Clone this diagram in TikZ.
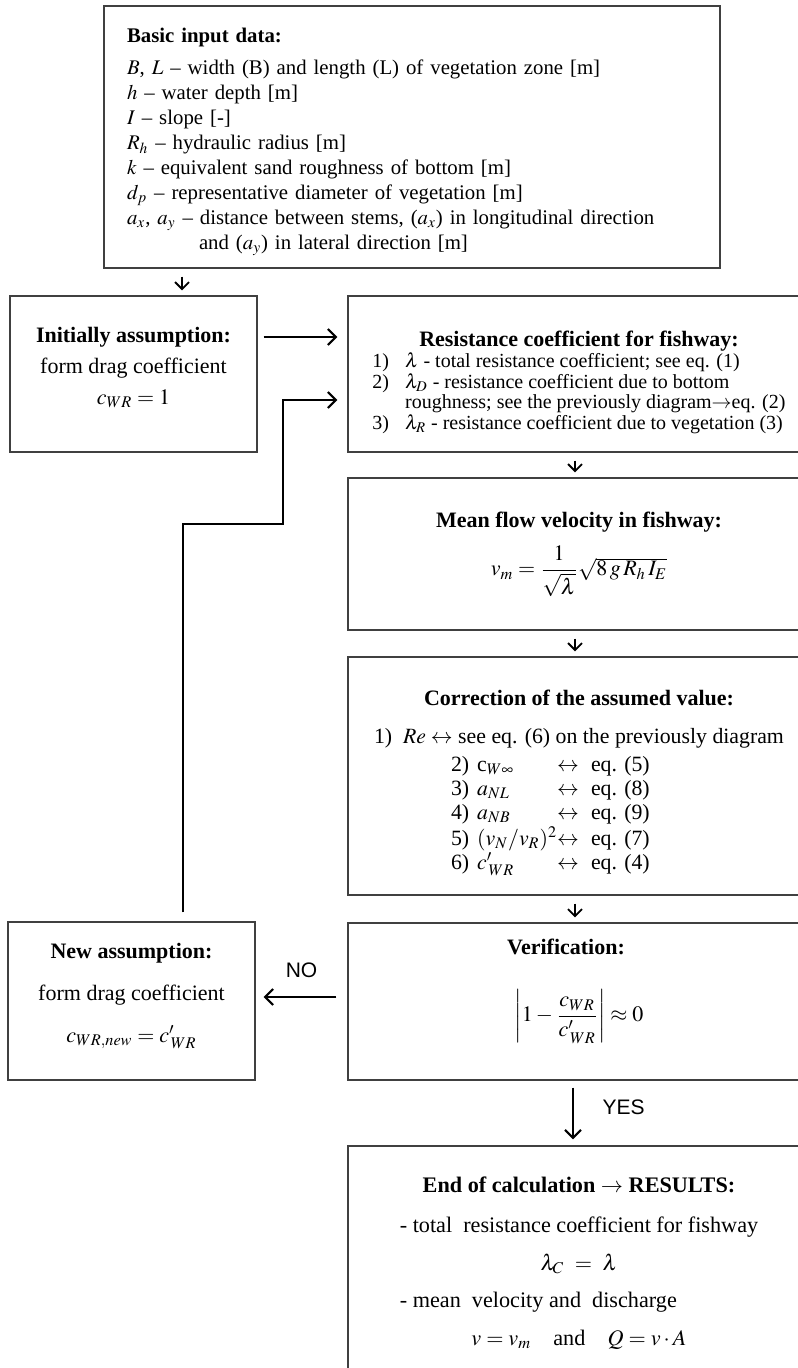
\documentclass[tikz,border=0pt]{standalone}
\usepackage{amsmath}
\usepackage{mathptmx}
\usepackage{fontspec}
\setmainfont{Liberation Serif}
\newfontfamily\labelfont{Liberation Sans}
\usetikzlibrary{arrows.meta,calc}

\begin{document}
\begin{tikzpicture}[x=0.5pt, y=-0.5pt,
    box/.style={draw=black!75, line width=0.7pt, inner sep=0pt, align=center},
    bigarr/.style={line width=1pt, -{Straight Barb[length=4pt,width=8pt]}},
    smallarr/.style={line width=0.9pt, -{Straight Barb[length=3.5pt,width=7pt]}, shorten <=4pt, shorten >=2.5pt}]
    \useasboundingbox (0,0) rectangle (797,1368);

    % input data
    \node[box, minimum width=308pt, minimum height=131pt, text width=285pt, align=left,
          font=\fontsize{10.4}{12.5}\selectfont] (input) at (412,137) {
      \rule{0pt}{12.5pt}\textbf{Basic input data:}\\[3.5pt]
      $B$, $L$ -- width (B) and length (L) of vegetation zone [m]\\
      $h$ -- water depth [m]\\
      $I$ -- slope [-]\\
      $R_h$ -- hydraulic radius [m]\\
      $k$ -- equivalent sand roughness of bottom [m]\\
      $d_p$ -- representative diameter of vegetation [m]\\
      $a_x$, $a_y$ -- distance between stems, ($a_x$) in longitudinal direction\\
      \hspace*{36pt}and ($a_y$) in lateral direction [m]};

    % left column
    \node[box, minimum width=123.5pt, minimum height=78pt,
          font=\fontsize{11}{15.5}\selectfont] (init) at (133.5,374) {
      \textbf{Initially assumption:}\\
      form drag coefficient\\
      $c_{WR}=1$\rule[-8.5pt]{0pt}{0pt}};
    \node[box, minimum width=123.5pt, minimum height=79pt,
          font=\fontsize{11}{21}\selectfont] (newass) at (131.5,1001) {
      \textbf{New assumption:}\\
      form drag coefficient\\
      $c_{WR,new}=c'_{\,WR}$\rule[-8.5pt]{0pt}{0pt}};

    % right column
    \node[box, minimum width=231pt, minimum height=78pt,
          font=\fontsize{10}{9.9}\selectfont] (resist) at (579,374) {
      \begin{tabular}{@{}l@{\hspace{8pt}}l@{}}
        \multicolumn{2}{c}{\rule{0pt}{17pt}\fontsize{11}{9.9}\selectfont\textbf{Resistance coefficient for fishway:}}\\
        1) & $\lambda$ - total resistance coefficient; see eq. (1)\\
        2) & $\lambda_D$ - resistance coefficient due to bottom\\
           & roughness; see the previously diagram$\rightarrow$eq. (2)\\
        3) & $\lambda_R$ - resistance coefficient due to vegetation (3)
      \end{tabular}};
    \node[box, minimum width=231pt, minimum height=76pt,
          font=\fontsize{11}{13}\selectfont] (velo) at (579,554) {
      \textbf{Mean flow velocity in fishway:}\\[6pt]
      $v_m=\dfrac{1}{\sqrt{\lambda}}\sqrt{8\,g\,R_h\,I_E}$};
    \node[box, minimum width=231pt, minimum height=119pt,
          font=\fontsize{10.9}{12.1}\selectfont] (corr) at (579,776) {
      \rule{0pt}{15.5pt}{\fontsize{11}{11}\selectfont\textbf{Correction of the assumed value:}}\\[6.5pt]
      \begin{tabular}[t]{@{\hspace{38.5pt}}l@{\hspace{4pt}}p{40pt}@{}l@{\hspace{6pt}}l@{}}
        \multicolumn{4}{@{}l@{}}{1)\ \ $Re\leftrightarrow$ see eq. (6) on the previously diagram}\\[2pt]
        2) & c$_{W\infty}$ & $\leftrightarrow$ & eq. (5)\\
        3) & $a_{NL}$ & $\leftrightarrow$ & eq. (8)\\
        4) & $a_{NB}$ & $\leftrightarrow$ & eq. (9)\\
        5) & $(v_N/v_R)^2$ & $\leftrightarrow$ & eq. (7)\\
        6) & $c'_{\,WR}$ & $\leftrightarrow$ & eq. (4)
      \end{tabular}};
    \node[box, minimum width=231pt, minimum height=78.5pt,
          font=\fontsize{11}{13}\selectfont] (verif) at (579,1001.5) {
      \textbf{Verification:}\hspace*{13pt}\\[16.5pt]
      $\left|1-\dfrac{c_{WR}}{c'_{\,WR}}\right|\approx 0$\rule[-21pt]{0pt}{0pt}};
    \node[box, minimum width=231pt, minimum height=115pt,
          font=\fontsize{11.1}{18.75}\selectfont] (results) at (579,1261) {
      \rule{0pt}{13.5pt}\textbf{End of calculation $\boldsymbol{\rightarrow}$ RESULTS:}\\[1.25pt]
      \begin{tabular}[t]{@{}l@{}}
        - total\ \ resistance coefficient for fishway\\
        \multicolumn{1}{c}{$\lambda_C\ =\ \lambda$}\\
        - mean\ \ velocity and\ \ discharge\\
        \multicolumn{1}{c}{$v=v_m$\quad and\quad $Q=v\cdot A$}
      \end{tabular}};

    % arrows down
    \draw[smallarr] ($(input.south)+(-230,0)$) -- ($(init.north)+(48.5,0)$);
    \foreach \a/\b in {resist/velo, velo/corr, corr/verif}
      \draw[smallarr] ($(\a.south)+(-4,0)$) -- ($(\b.north)+(-4,0)$);

    \draw[bigarr, shorten <=3pt, shorten >=5pt] ($(init.east)+(0,-37)$) -- ($(resist.west)+(0,-37)$);

    % loop back
    \coordinate (bend) at ($(init.south east)+(25,71)$);
    \draw[bigarr, shorten <=4.5pt, shorten >=5pt] ($(newass.north)+(51.5,0)$) |- (bend) |- ($(resist.west)+(0,26)$);

    \draw[bigarr, shorten <=5.5pt, shorten >=4pt] ($(verif.west)+(0,-4.5)$) --
      node[midway, yshift=13.5pt, font=\labelfont\fontsize{10.5}{12}\selectfont] {NO} ($(newass.east)+(0,-4)$);
    \draw[bigarr, shorten <=3.5pt, shorten >=3pt] ($(verif.south)+(-6,0)$) --
      node[midway, anchor=west, xshift=11pt, yshift=3pt, font=\labelfont\fontsize{10.5}{12}\selectfont] {YES} ($(results.north)+(-6,0)$);

\end{tikzpicture}
\end{document}
